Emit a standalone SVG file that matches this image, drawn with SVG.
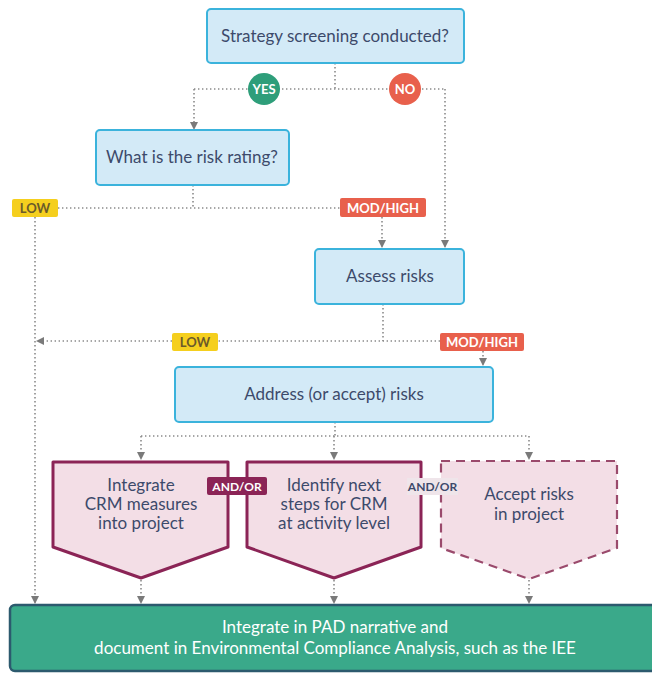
<svg xmlns="http://www.w3.org/2000/svg" width="652" height="673" viewBox="0 0 652 673">
  <defs>
    <marker id="arr" viewBox="0 0 8 8" refX="7" refY="4" markerWidth="8" markerHeight="8" markerUnits="userSpaceOnUse" orient="auto">
      <path d="M0,0 L8,4 L0,8 Z" fill="#7a7a7a"/>
    </marker>
    <style>
      .q { fill: #d3eaf7; stroke: #3bb3dc; stroke-width: 2; }
      .qt { font-family: Lato, "Open Sans", sans-serif; font-size: 17px; fill: #3d4a6b; text-anchor: middle; }
      .link { fill: none; stroke: #8a8a8a; stroke-width: 1.6; stroke-dasharray: 1.4 2.6; }
      .pent { fill: #f3dee6; stroke: #8b2456; stroke-width: 3; stroke-linejoin: round; }
      .pentd { fill: #f3dee6; stroke: #9a4a6c; stroke-width: 2.2; stroke-dasharray: 9 6; }
      .pt { font-family: Lato, "Open Sans", sans-serif; font-size: 17px; fill: #3d4a6b; text-anchor: middle; }
      .tag { font-family: Lato, "Open Sans", sans-serif; font-size: 13px; font-weight: bold; text-anchor: middle; }
    </style>
  </defs>

  <!-- connectors -->
  <g id="connectors">
    <path class="link" d="M335,63 V89"/>
    <path class="link" d="M194,89 H445"/>
    <path class="link" d="M194,89 V129" marker-end="url(#arr)"/>
    <path class="link" d="M445,89 V247" marker-end="url(#arr)"/>
    <path class="link" d="M193,185 V208"/>
    <path class="link" d="M58,208 H340"/>
    <path class="link" d="M35,217 V603" marker-end="url(#arr)"/>
    <path class="link" d="M382,217 V247" marker-end="url(#arr)"/>
    <path class="link" d="M383,304 V341"/>
    <path class="link" d="M440,341 H37" marker-end="url(#arr)"/>
    <path class="link" d="M483,351 V365" marker-end="url(#arr)"/>
    <path class="link" d="M335,422 V436"/>
    <path class="link" d="M141,436 H529"/>
    <path class="link" d="M141,436 V459" marker-end="url(#arr)"/>
    <path class="link" d="M334,436 V459" marker-end="url(#arr)"/>
    <path class="link" d="M529,436 V459" marker-end="url(#arr)"/>
    <path class="link" d="M141,580 V603" marker-end="url(#arr)"/>
    <path class="link" d="M334,580 V603" marker-end="url(#arr)"/>
    <path class="link" d="M529,580 V603" marker-end="url(#arr)"/>
  </g>

  <!-- decision labels -->
  <g id="yes">
    <circle cx="264" cy="89" r="16" fill="#2e9e7a"/>
    <text class="tag" x="264" y="93.5" fill="#ffffff">YES</text>
  </g>
  <g id="no">
    <circle cx="405" cy="89" r="16" fill="#e8604c"/>
    <text class="tag" x="405" y="93.5" fill="#ffffff">NO</text>
  </g>
  <g id="low1">
    <rect x="12" y="199" width="46" height="18" rx="2" fill="#f5cf1e"/>
    <text class="tag" x="35" y="212.5" fill="#6b5a2a">LOW</text>
  </g>
  <g id="modhigh1">
    <rect x="340" y="198" width="86" height="19" rx="2" fill="#e8604c"/>
    <text class="tag" x="383" y="212.5" fill="#ffffff">MOD/HIGH</text>
  </g>
  <g id="low2">
    <rect x="172" y="333" width="46" height="18" rx="2" fill="#f5cf1e"/>
    <text class="tag" x="195" y="346.5" fill="#6b5a2a">LOW</text>
  </g>
  <g id="modhigh2">
    <rect x="440" y="333" width="84" height="18" rx="2" fill="#e8604c"/>
    <text class="tag" x="482" y="346.5" fill="#ffffff">MOD/HIGH</text>
  </g>

  <!-- question / step boxes -->
  <g id="screening">
    <rect class="q" x="207" y="9" width="257" height="54" rx="4"/>
    <text class="qt" x="335" y="42">Strategy screening conducted?</text>
  </g>
  <g id="rating">
    <rect class="q" x="96" y="130" width="193" height="55" rx="4"/>
    <text class="qt" x="192" y="163">What is the risk rating?</text>
  </g>
  <g id="assess">
    <rect class="q" x="315" y="249" width="149" height="55" rx="4"/>
    <text class="qt" x="390" y="282">Assess risks</text>
  </g>
  <g id="address">
    <rect class="q" x="175" y="367" width="318" height="55" rx="4"/>
    <text class="qt" x="334" y="400">Address (or accept) risks</text>
  </g>

  <!-- response options -->
  <g id="integrate">
    <path class="pent" d="M53,462 H228 V547 L141,578 L53,547 Z"/>
    <text class="pt" x="141" y="491">Integrate</text>
    <text class="pt" x="141" y="510">CRM measures</text>
    <text class="pt" x="141" y="529">into project</text>
  </g>
  <g id="identify">
    <path class="pent" d="M247,462 H421 V547 L334,578 L247,547 Z"/>
    <text class="pt" x="334" y="491">Identify next</text>
    <text class="pt" x="334" y="510">steps for CRM</text>
    <text class="pt" x="334" y="529">at activity level</text>
  </g>
  <g id="accept">
    <path class="pentd" d="M441,461 H617 V548 L529,579 L441,548 Z"/>
    <text class="pt" x="529" y="500">Accept risks</text>
    <text class="pt" x="529" y="520">in project</text>
  </g>
  <g id="andor1">
    <rect x="207" y="477" width="60" height="18" rx="2" fill="#8b2456"/>
    <text class="tag" x="237" y="490.5" fill="#ffffff" style="font-size:12px">AND/OR</text>
  </g>
  <g id="andor2">
    <rect x="407" y="478" width="51" height="17" fill="#efe5ea"/>
    <text class="tag" x="432.5" y="491" fill="#3d4a6b" style="font-size:12px">AND/OR</text>
  </g>

  <!-- final documentation step -->
  <g id="document">
    <rect x="10" y="605" width="660" height="66" rx="5" fill="#3aa98a" stroke="#2c5a6e" stroke-width="2.5"/>
    <text class="pt" x="335" y="633" style="fill:#ffffff">Integrate in PAD narrative and</text>
    <text class="pt" x="335" y="654" style="fill:#ffffff">document in Environmental Compliance Analysis, such as the IEE</text>
  </g>
</svg>
